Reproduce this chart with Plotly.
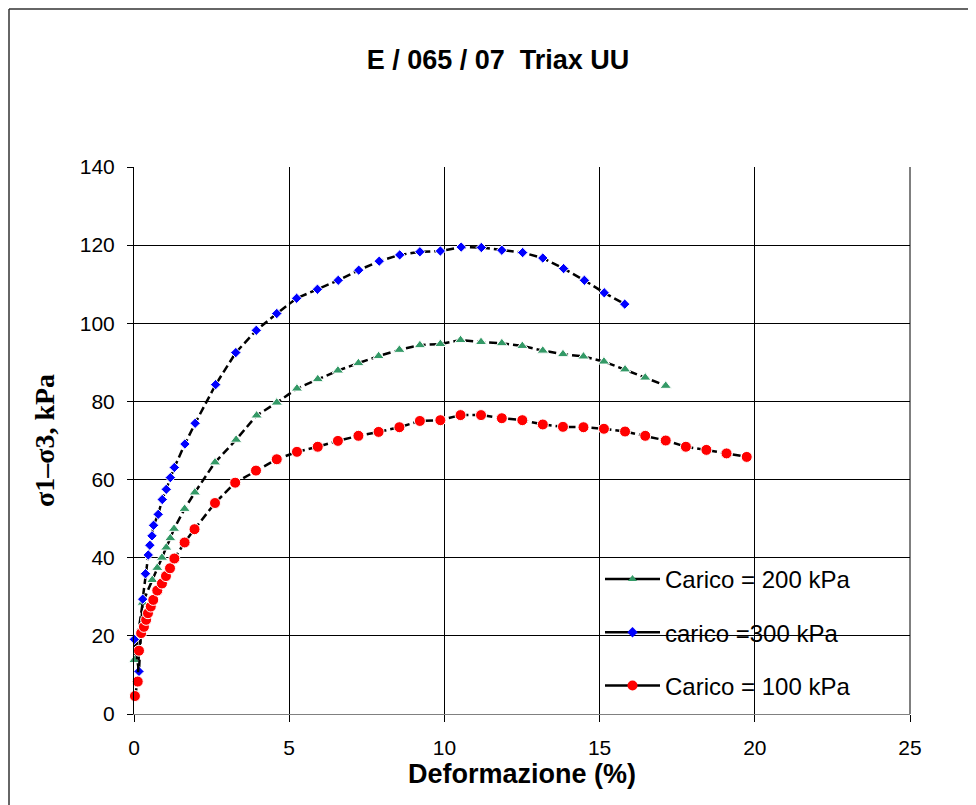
import plotly.graph_objects as go

# ---- data ----
x_200 = [0.01, 0.28, 0.59, 0.75, 0.90, 1.04, 1.17, 1.29, 1.63, 1.96, 2.61, 3.29, 3.95, 4.60,
         5.25, 5.92, 6.57, 7.23, 7.88, 8.55, 9.21, 9.87, 10.52, 11.18, 11.85, 12.51, 13.17,
         13.82, 14.48, 15.14, 15.82, 16.47, 17.13]
y_200 = [13.8, 28.5, 34.3, 37.4, 40.0, 42.6, 45.0, 47.4, 52.5, 56.7, 64.4, 70.2, 76.4, 79.7,
         83.3, 85.7, 87.9, 89.8, 91.6, 93.2, 94.4, 94.7, 95.7, 95.2, 94.9, 94.2, 93.0,
         92.1, 91.5, 90.2, 88.2, 86.1, 84.0]

x_300 = [0.01, 0.16, 0.28, 0.37, 0.46, 0.51, 0.58, 0.63, 0.78, 0.91, 1.04, 1.17, 1.30, 1.64,
         1.97, 2.63, 3.28, 3.94, 4.60, 5.24, 5.91, 6.58, 7.24, 7.90, 8.56, 9.21, 9.87, 10.54,
         11.19, 11.85, 12.52, 13.17, 13.84, 14.51, 15.15, 15.81]
y_300 = [19.1, 10.9, 29.4, 35.9, 40.7, 43.2, 45.6, 48.3, 51.1, 54.9, 57.5, 60.5, 63.1, 69.1,
         74.4, 84.3, 92.5, 98.2, 102.5, 106.4, 108.7, 111.0, 113.6, 115.9, 117.5, 118.3, 118.5, 119.5,
         119.4, 118.7, 118.1, 116.7, 114.0, 111.0, 107.8, 104.9]

x_100 = [0.03, 0.12, 0.16, 0.23, 0.32, 0.39, 0.45, 0.54, 0.62, 0.75, 0.90, 1.03, 1.16, 1.30,
         1.63, 1.95, 2.61, 3.26, 3.93, 4.60, 5.25, 5.92, 6.57, 7.23, 7.88, 8.55, 9.21, 9.87,
         10.52, 11.18, 11.85, 12.51, 13.17, 13.82, 14.48, 15.14, 15.82, 16.47, 17.13, 17.78,
         18.44, 19.09, 19.74]
y_100 = [4.6, 8.3, 16.2, 20.7, 22.3, 24.1, 25.8, 27.5, 29.2, 31.6, 33.4, 35.3, 37.3, 39.8,
         43.9, 47.3, 54.0, 59.2, 62.3, 65.2, 67.1, 68.4, 69.9, 71.2, 72.2, 73.4, 75.0, 75.2,
         76.5, 76.5, 75.7, 75.2, 74.1, 73.5, 73.4, 73.0, 72.3, 71.2, 70.0, 68.4,
         67.6, 66.7, 65.8]

x_ticks = [0, 5, 10, 15, 20, 25]
y_ticks = [0, 20, 40, 60, 80, 100, 120, 140]

series = [
    ("Carico = 200 kPa", x_200, y_200, "#339966", "triangle-up", 10),
    ("carico =300 kPa", x_300, y_300, "#0000FF", "diamond", 8),
    ("Carico = 100 kPa", x_100, y_100, "#FF0000", "circle", 11),
]

fig = go.Figure()
for i, (name, xs, ys, col, sym, sz) in enumerate(series):
    fig.add_trace(go.Scatter(
        x=xs, y=ys, mode="lines+markers", name=name, showlegend=False,
        line=dict(color="black", width=2.5, dash="8px,4px"),
        marker=dict(color=col, symbol=sym, size=sz, line=dict(color="white", width=1)),
        cliponaxis=False,
    ))
# legend entries (solid line samples)
for i, (name, xs, ys, col, sym, sz) in enumerate(series):
    fig.add_trace(go.Scatter(
        x=[None], y=[None], mode="lines+markers", name=name, legendgroup=f"g{i}",
        line=dict(color="black", width=2.5),
        marker=dict(color=col, symbol=sym, size=8 if sym != "circle" else 10),
    ))

# page body has an 8px margin: work in reference pixels, shifted by OFF
OFF = 8
W, H = 976 - OFF, 805 - OFF
PL, PR, PT, PB = 134, 910, 167, 714          # plot area in reference pixels
L, T = PL - OFF, PT - OFF
R, B = W - (PR - OFF), H - (PB - OFF)
pw, ph = PR - PL, PB - PT

def px_x(p):
    return (p - PL) / pw

def px_y(p):
    return (PB - p) / ph

fig.update_layout(
    width=W, height=H,
    margin=dict(l=L, r=R, t=T, b=B, autoexpand=False),
    paper_bgcolor="white", plot_bgcolor="white",
    font=dict(family="Liberation Sans, Arial, sans-serif", color="black"),
    title=dict(text="<b>E / 065 / 07  Triax UU</b>", x=(498 - OFF) / W, xanchor="center",
               y=1 - (60 - OFF) / H, yanchor="middle",
               font=dict(size=27, family="Liberation Sans, Arial, sans-serif")),
    xaxis=dict(range=[0, 25], tickvals=x_ticks, ticktext=[str(v) for v in x_ticks],
               showgrid=True, gridcolor="black", gridwidth=1,
               showline=True, linecolor="#808080", linewidth=1, mirror=False,
               ticks="outside", ticklen=7, tickcolor="black",
               tickfont=dict(size=21), zeroline=False, ticklabelstandoff=8,
               title=dict(text="<b>Deformazione (%)</b>", font=dict(size=27), standoff=2)),
    yaxis=dict(range=[0, 140], tickvals=y_ticks, ticktext=[str(v) for v in y_ticks],
               showgrid=True, gridcolor="black", gridwidth=1,
               showline=True, linecolor="black", linewidth=1,
               ticks="outside", ticklen=6, tickcolor="black",
               tickfont=dict(size=21), zeroline=False, ticklabelstandoff=8,
               title=dict(text="<b>σ1–σ3, kPa</b>", standoff=16,
                          font=dict(size=28, family="Liberation Serif, Times New Roman, serif"))),
    legend=dict(x=px_x(600), y=px_y(557), xanchor="left", yanchor="top",
                bgcolor="rgba(0,0,0,0)", borderwidth=0, font=dict(size=24),
                itemwidth=55, tracegroupgap=19),
    shapes=[
        dict(type="rect", xref="paper", yref="paper", x0=px_x(560), x1=px_x(897),
             y0=px_y(713), y1=px_y(548), fillcolor="white", line=dict(width=0), layer="between"),
        dict(type="line", xref="paper", yref="paper", x0=px_x(9), x1=px_x(1000),
             y0=px_y(9), y1=px_y(9), line=dict(color="#333333", width=1.5)),
        dict(type="line", xref="paper", yref="paper", x0=px_x(9), x1=px_x(9),
             y0=px_y(9), y1=px_y(830), line=dict(color="#333333", width=1.5)),
        dict(type="line", xref="paper", yref="paper", x0=1, x1=1,
             y0=0, y1=1, line=dict(color="black", width=1)),
    ],
)

fig.write_html("out.html")
